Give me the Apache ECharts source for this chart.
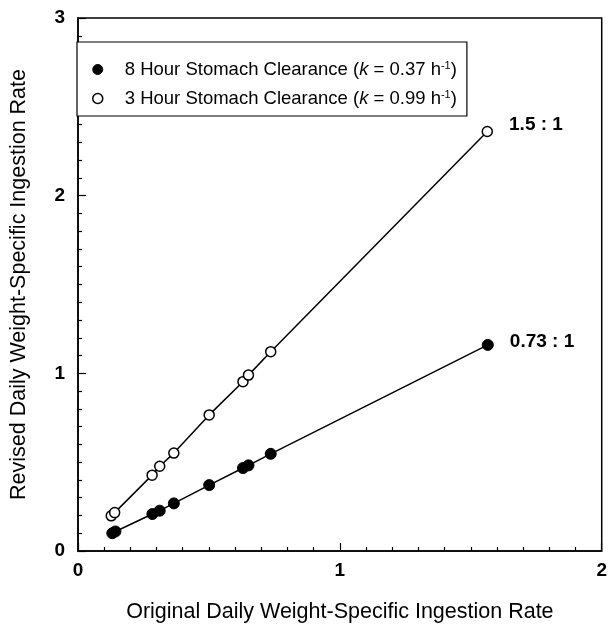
<!DOCTYPE html>
<html>
<head>
<meta charset="utf-8">
<script src="https://cdn.jsdelivr.net/npm/echarts@6/dist/echarts.min.js"></script>
<style>html,body{margin:0;padding:0;background:#fff;}#c{width:610px;height:628px;}</style>
</head>
<body>
<div id="c"></div>
<script>
// Data
var xTicks = [0, 1, 2];
var yTicks = [0, 1, 2, 3];
var seriesNames = ['8 Hour Stomach Clearance', '3 Hour Stomach Clearance'];
var kValues = ['0.37', '0.99'];
var ratioLabels = ['0.73 : 1', '1.5 : 1'];

var eightHourX = [0.131, 0.143, 0.284, 0.312, 0.366, 0.501, 0.630, 0.651, 0.736, 1.565];
var eightHourY = [0.100, 0.110, 0.208, 0.227, 0.268, 0.371, 0.467, 0.482, 0.547, 1.160];

var threeHourX = [0.127, 0.140, 0.283, 0.312, 0.366, 0.501, 0.630, 0.651, 0.736, 1.563];
var threeHourY = [0.198, 0.216, 0.427, 0.477, 0.551, 0.766, 0.953, 0.990, 1.122, 2.361];

var FONT = '"Liberation Sans", Arial, sans-serif';

function buildData(xs, ys, label, off) {
  return xs.map(function (x, i) {
    var item = { value: [x, ys[i]] };
    if (i === xs.length - 1) {
      item.label = {
        show: true, position: 'right', distance: 16, offset: [0, off],
        formatter: label, fontFamily: FONT, fontSize: 19, fontWeight: 'bold', color: '#000'
      };
    }
    return item;
  });
}

var chart = echarts.init(document.getElementById('c'), null, { renderer: 'canvas' });
var option = {
  animation: false,
  backgroundColor: '#fff',
  grid: {
    left: 67, right: 6, top: 18, bottom: 73,
    show: true, borderColor: '#000', borderWidth: 1.5, backgroundColor: 'transparent'
  },
  legend: {
    left: 77, top: 42, orient: 'vertical',
    backgroundColor: '#fff',
    borderColor: '#000', borderWidth: 1.2, borderRadius: 0,
    padding: [18, 10, 8, 15],
    itemGap: 10, itemWidth: 44, itemHeight: 10,
    selectedMode: false,
    data: [
      { name: seriesNames[0], icon: 'circle', itemStyle: { color: '#000', borderColor: '#000', borderWidth: 1 } },
      { name: seriesNames[1], icon: 'circle', itemStyle: { color: '#fff', borderColor: '#000', borderWidth: 1.5 } }
    ],
    formatter: function (name) {
      var k = name === seriesNames[0] ? kValues[0] : kValues[1];
      return name + ' ({i|k} = ' + k + ' h{s|-1})';
    },
    textStyle: {
      fontFamily: FONT, fontSize: 18.5, color: '#000',
      rich: {
        i: { fontFamily: FONT, fontSize: 18.5, fontStyle: 'italic', color: '#000' },
        s: { fontFamily: FONT, fontSize: 11, verticalAlign: 'top', color: '#000' }
      }
    }
  },
  xAxis: {
    type: 'value', min: xTicks[0], max: xTicks[xTicks.length - 1], interval: 1,
    name: 'Original Daily Weight-Specific Ingestion Rate',
    nameLocation: 'middle', nameGap: 50,
    nameTextStyle: { fontFamily: FONT, fontSize: 21.5, color: '#000' },
    axisLine: { show: true, onZero: false, lineStyle: { color: '#000', width: 1.5 } },
    axisTick: { show: true, inside: true, length: 8, lineStyle: { color: '#000', width: 1.2 } },
    minorTick: { show: true, splitNumber: 10, length: 4, lineStyle: { color: '#000', width: 1.2 } },
    axisLabel: { fontFamily: FONT, fontSize: 19, fontWeight: 'bold', color: '#000', margin: 10 },
    splitLine: { show: false }
  },
  yAxis: {
    type: 'value', min: yTicks[0], max: yTicks[yTicks.length - 1], interval: 1,
    name: 'Revised Daily Weight-Specific Ingestion Rate',
    nameLocation: 'middle', nameGap: 48,
    nameTextStyle: { fontFamily: FONT, fontSize: 21.5, color: '#000' },
    axisLine: { show: true, onZero: false, lineStyle: { color: '#000', width: 1.5 } },
    axisTick: { show: true, inside: true, length: 8, lineStyle: { color: '#000', width: 1.2 } },
    minorTick: { show: true, splitNumber: 10, length: 4, lineStyle: { color: '#000', width: 1.2 } },
    axisLabel: { fontFamily: FONT, fontSize: 19, fontWeight: 'bold', color: '#000', margin: 13 },
    splitLine: { show: false }
  },
  series: [
    {
      name: seriesNames[0], type: 'line',
      data: buildData(eightHourX, eightHourY, ratioLabels[0], -3),
      symbol: 'circle', symbolSize: 11, showAllSymbol: true,
      lineStyle: { color: '#000', width: 1.5 },
      itemStyle: { color: '#000', borderColor: '#000', borderWidth: 1 },
      emphasis: { disabled: true }
    },
    {
      name: seriesNames[1], type: 'line',
      data: buildData(threeHourX, threeHourY, ratioLabels[1], -7),
      symbol: 'circle', symbolSize: 10, showAllSymbol: true,
      lineStyle: { color: '#000', width: 1.5 },
      itemStyle: { color: '#fff', borderColor: '#000', borderWidth: 1.5 },
      emphasis: { disabled: true }
    }
  ]
};
chart.setOption(option);
</script>
</body>
</html>
